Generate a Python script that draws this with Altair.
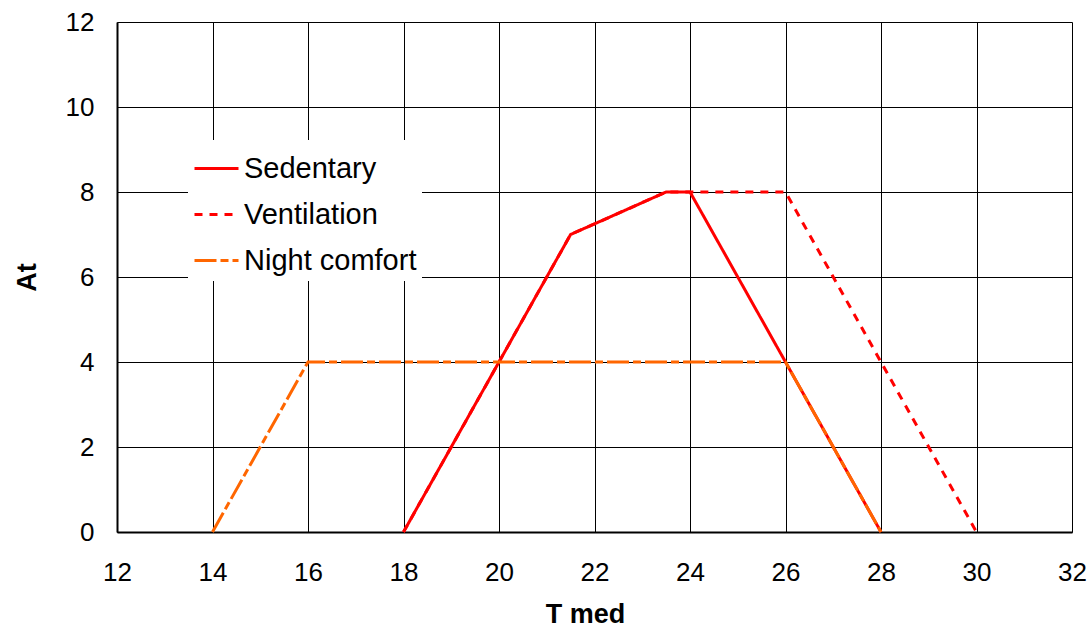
import altair as alt
import pandas as pd

series_names = ["Sedentary", "Ventilation", "Night comfort"]

sed_x = [18, 21.5, 23.5, 24, 28]
sed_y = [0, 7, 8, 8, 0]

ven_x = [18, 21.5, 23.5, 26, 30]
ven_y = [0, 7, 8, 8, 0]

night_x = [14, 16, 26, 28]
night_y = [0, 4, 4, 0]

colors = ["#FF0000", "#FF0000", "#FF6600"]
dashes = [[1, 0], [8, 7], [22, 4, 8, 4]]

x_ticks = [12, 14, 16, 18, 20, 22, 24, 26, 28, 30, 32]
y_ticks = [0, 2, 4, 6, 8, 10, 12]

rows = []
for name, xs, ys in zip(series_names, [sed_x, ven_x, night_x], [sed_y, ven_y, night_y]):
    for i, (a, b) in enumerate(zip(xs, ys)):
        rows.append({"series": name, "T": a, "At": b, "order": i})
df = pd.DataFrame(rows)

font = "Liberation Sans"

lines = alt.Chart(df).mark_line(strokeWidth=3).encode(
    x=alt.X("T:Q", title="T med",
            scale=alt.Scale(domain=[12, 32], nice=False, zero=False),
            axis=alt.Axis(values=x_ticks, grid=True, gridColor="black", gridOpacity=1,
                          gridWidth=1, ticks=False, domainColor="black", domainWidth=2,
                          labelFontSize=26, labelFont=font, labelColor="black",
                          labelFlush=False, labelPadding=27, titleFontSize=27,
                          titleFont=font, titleFontWeight="bold", titleColor="black",
                          titlePadding=16, titleX=468)),
    y=alt.Y("At:Q", title="At",
            scale=alt.Scale(domain=[0, 12], nice=False),
            axis=alt.Axis(values=y_ticks, grid=True, gridColor="black", gridOpacity=1,
                          gridWidth=1, ticks=False, domainColor="black", domainWidth=2,
                          labelFontSize=26, labelFont=font, labelColor="black",
                          labelFlush=False, labelPadding=23, titleFontSize=27,
                          titleFont=font, titleFontWeight="bold", titleColor="black",
                          titlePadding=24)),
    color=alt.Color("series:N", sort=series_names,
                    scale=alt.Scale(domain=series_names, range=colors),
                    legend=alt.Legend(title=None, orient="none", legendX=71, legendY=118,
                                      fillColor="white", padding=5, symbolType="stroke",
                                      symbolSize=1936, symbolStrokeWidth=3,
                                      labelFontSize=29, labelFont=font, labelColor="black",
                                      labelLimit=0, labelOffset=4, rowPadding=7)),
    strokeDash=alt.StrokeDash("series:N", sort=series_names,
                              scale=alt.Scale(domain=series_names, range=dashes),
                              legend=None),
    order="order:Q",
    detail="series:N",
)

chart = lines.properties(
    width=955, height=510,
    autosize=alt.AutoSizeParams(type="none"),
    padding={"left": 117, "top": 22, "right": 17, "bottom": 98},
).configure_view(stroke="black", strokeWidth=2).configure(background="white")

chart.save("out.html", embed_options={"renderer": "svg", "actions": False})
